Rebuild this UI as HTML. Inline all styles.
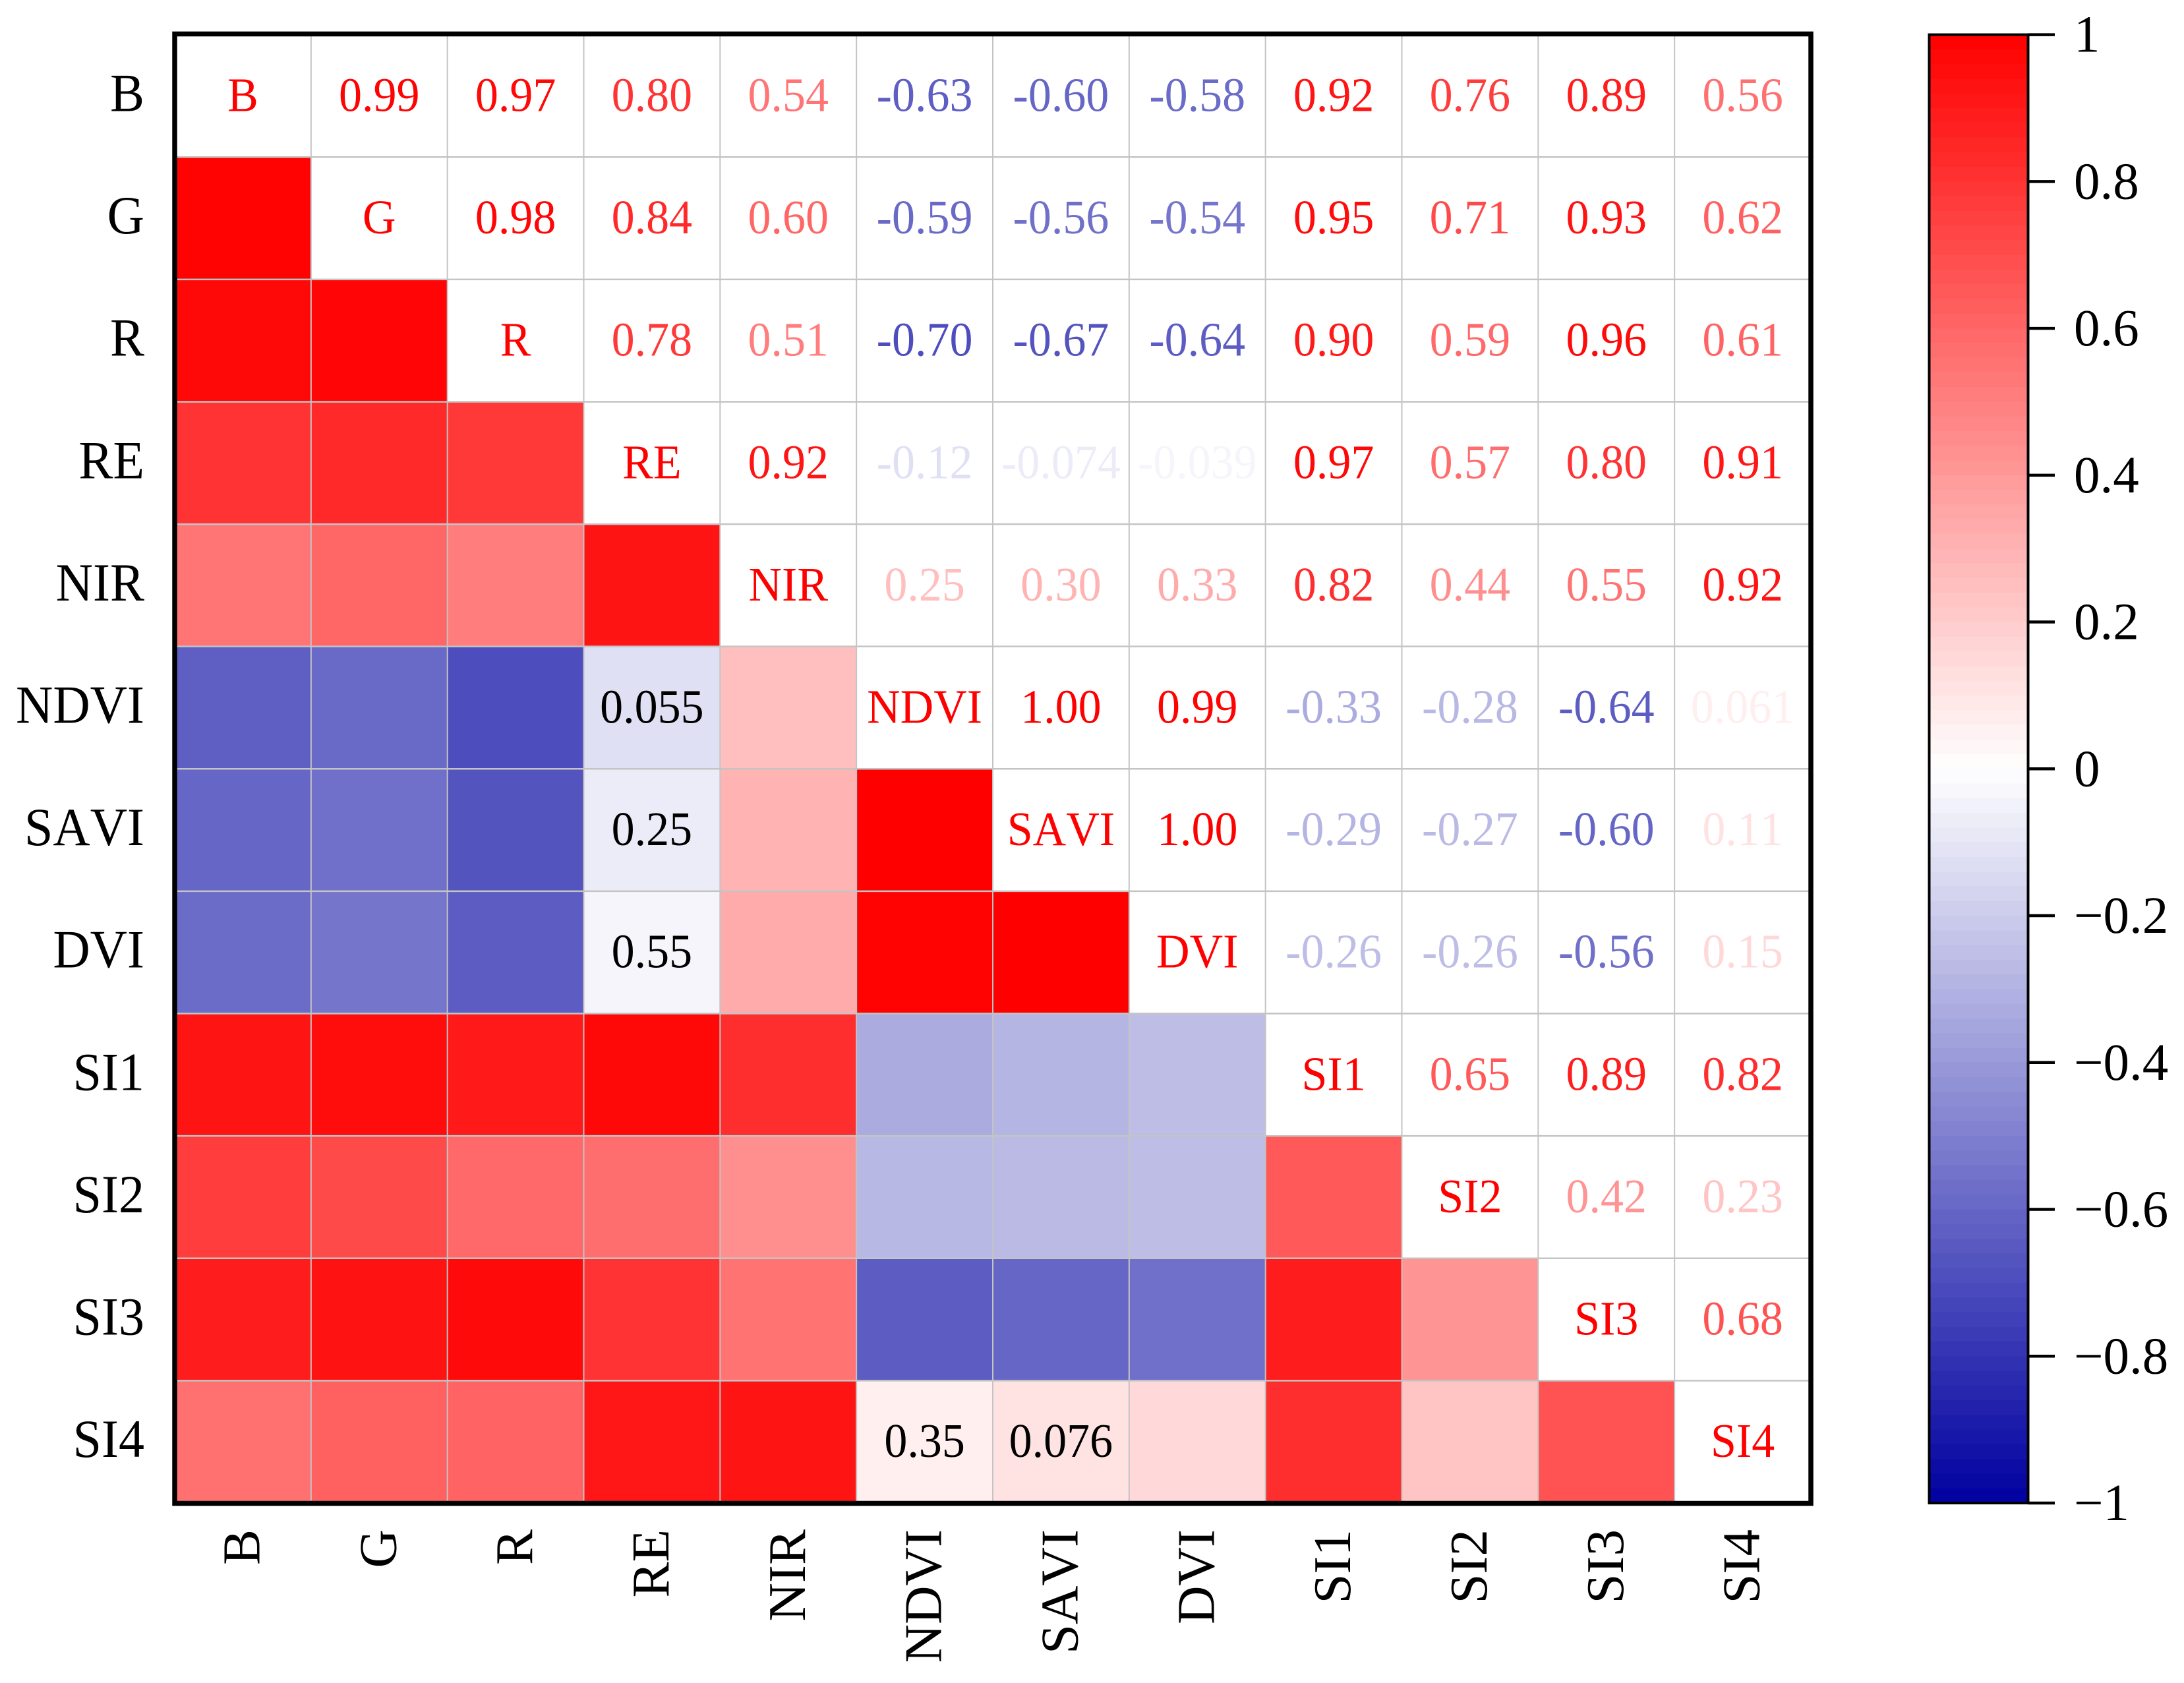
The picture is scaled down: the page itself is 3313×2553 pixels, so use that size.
<!DOCTYPE html>
<html lang="en">
<head>
<meta charset="utf-8">
<title>Correlation heatmap</title>
<style>
html,body{margin:0;padding:0;background:#fff;}
svg{display:block;}
text{font-family:"Liberation Serif","Times New Roman",serif;font-kerning:none;}
</style>
</head>
<body>
<svg id="chart" xmlns="http://www.w3.org/2000/svg" width="3313" height="2553" viewBox="0 0 3313 2553"></svg>
<script>
const categories = ['B','G','R','RE','NIR','NDVI','SAVI','DVI','SI1','SI2','SI3','SI4'];
const rowB    = [0.99,0.97,0.80,0.54,-0.63,-0.60,-0.58,0.92,0.76,0.89,0.56];
const rowG    = [0.98,0.84,0.60,-0.59,-0.56,-0.54,0.95,0.71,0.93,0.62];
const rowR    = [0.78,0.51,-0.70,-0.67,-0.64,0.90,0.59,0.96,0.61];
const rowRE   = [0.92,-0.12,-0.074,-0.039,0.97,0.57,0.80,0.91];
const rowNIR  = [0.25,0.30,0.33,0.82,0.44,0.55,0.92];
const rowNDVI = [1.00,0.99,-0.33,-0.28,-0.64,0.061];
const rowSAVI = [1.00,-0.29,-0.27,-0.60,0.11];
const rowDVI  = [-0.26,-0.26,-0.56,0.15];
const rowSI1  = [0.65,0.89,0.82];
const rowSI2  = [0.42,0.23];
const rowSI3  = [0.68];
const upperRows = [rowB,rowG,rowR,rowRE,rowNIR,rowNDVI,rowSAVI,rowDVI,rowSI1,rowSI2,rowSI3];
const overlayLabels = [
  {row:'NDVI',col:'RE',label:'0.055'},
  {row:'SAVI',col:'RE',label:'0.25'},
  {row:'DVI',col:'RE',label:'0.55'},
  {row:'SI4',col:'NDVI',label:'0.35'},
  {row:'SI4',col:'SAVI',label:'0.076'}
];
const colorbarTicks = [1,0.8,0.6,0.4,0.2,0,-0.2,-0.4,-0.6,-0.8,-1];

const NS = 'http://www.w3.org/2000/svg';
const svg = document.getElementById('chart');
const plotLeft = 265, plotRight = 2747, plotTop = 52.6, plotBottom = 2280;
const cellW = (plotRight - plotLeft) / categories.length;
const cellH = (plotBottom - plotTop) / categories.length;
const cbLeft = 2926.5, cbRight = 3076.5;
const TEXT_STRETCH = 1.05;

function xScale(i){ return plotLeft + i * cellW; }
function yScale(i){ return plotTop + i * cellH; }
function cbScale(v){ return plotTop + (1 - v) / 2 * (plotBottom - plotTop); }
function colorOf(v){
  const t = Math.max(-1, Math.min(1, v));
  if (t >= 0) {
    const c = Math.round(255 * (1 - t));
    return 'rgb(255,' + c + ',' + c + ')';
  }
  const m = 1 + t;
  const c = Math.round(255 * m);
  const b = Math.round(160 + 95 * m);
  return 'rgb(' + c + ',' + c + ',' + b + ')';
}
function fmt(v){
  return Math.abs(v) < 0.1 ? v.toFixed(3) : v.toFixed(2);
}
function mk(tag, attrs, parent){
  const el = document.createElementNS(NS, tag);
  for (const k in attrs) el.setAttribute(k, attrs[k]);
  (parent || svg).appendChild(el);
  return el;
}
function stretch(y){
  return 'matrix(1 0 0 ' + TEXT_STRETCH + ' 0 ' + (-(TEXT_STRETCH - 1) * y) + ')';
}
function valueAt(r, c){
  const a = Math.min(r, c), b = Math.max(r, c);
  return upperRows[a][b - a - 1];
}
function cellText(r, c, str, fill){
  const y = yScale(r) + cellH / 2 + 23;
  return mk('text', {x:xScale(c) + cellW / 2, y:y, 'font-size':70, 'text-anchor':'middle', fill:fill, transform:stretch(y)});
}

const n = categories.length;

// lower-triangle coloured cells
for (let r = 0; r < n; r++) {
  for (let c = 0; c < r; c++) {
    const cell = mk('rect', {x:xScale(c), y:yScale(r), width:cellW + 0.5, height:cellH + 0.5, fill:colorOf(valueAt(r, c))});
    
    
  }
}

// grid lines
for (let i = 1; i < n; i++) {
  const v = mk('line', {x1:xScale(i), x2:xScale(i), y1:plotTop, y2:plotBottom, stroke:'#c4c4c4', 'stroke-width':2});
  
  
  const h = mk('line', {x1:plotLeft, x2:plotRight, y1:yScale(i), y2:yScale(i), stroke:'#c4c4c4', 'stroke-width':2.5});
  
  
}

// upper-triangle values
for (let r = 0; r < n; r++) {
  for (let c = r + 1; c < n; c++) {
    const v = valueAt(r, c);
    const t = cellText(r, c, fmt(v), colorOf(v));
    t.textContent = fmt(v);
    
    
  }
}

// diagonal names
for (let i = 0; i < n; i++) {
  const t = cellText(i, i, categories[i], '#ff0000');
  t.textContent = categories[i];
  
  
}

// black labels over the lower triangle
overlayLabels.forEach(function(o){
  const r = categories.indexOf(o.row), c = categories.indexOf(o.col);
  const t = cellText(r, c, o.label, '#000');
  t.textContent = o.label;
  
  
});

// plot frame
const frame = mk('rect', {x:plotLeft, y:51.5, width:plotRight - plotLeft, height:2280.5 - 51.5, fill:'none', stroke:'#000', 'stroke-width':7.5});



// axis labels
for (let i = 0; i < n; i++) {
  const ly = yScale(i) + cellH / 2 + 23;
  const yl = mk('text', {x:219, y:ly, 'font-size':78, 'text-anchor':'end', fill:'#000', transform:stretch(ly)});
  yl.textContent = categories[i];
  
  
  const bx = xScale(i) + cellW / 2 + 25, by = 2320;
  const xl = mk('text', {x:bx, y:by, 'font-size':81, 'text-anchor':'end', fill:'#000', transform:'rotate(-90 ' + bx + ' ' + by + ')'});
  xl.textContent = categories[i];
  
  
}

// colour bar bands
const bands = 100;
for (let b = 0; b < bands; b++) {
  const vTop = 1 - 2 * b / bands;
  const vBot = 1 - 2 * (b + 1) / bands;
  const rect = mk('rect', {x:cbLeft, y:cbScale(vTop), width:cbRight - cbLeft, height:cbScale(vBot) - cbScale(vTop) + 0.6, fill:colorOf((vTop + vBot) / 2)});
  
  
}
const cbFrame = mk('rect', {x:cbLeft, y:cbScale(1), width:cbRight - cbLeft, height:cbScale(-1) - cbScale(1), fill:'none', stroke:'#000', 'stroke-width':4});



// colour bar ticks
colorbarTicks.forEach(function(v){
  const y = cbScale(v);
  const tick = mk('line', {x1:cbRight, x2:3117, y1:y, y2:y, stroke:'#000', 'stroke-width':4.5});
  
  
  const label = (v < 0 ? '\u2212' : '') + String(Math.abs(v));
  const t = mk('text', {x:3146, y:y + 26, 'font-size':79, fill:'#000'});
  t.textContent = label;
  
  
});
</script>
</body>
</html>
